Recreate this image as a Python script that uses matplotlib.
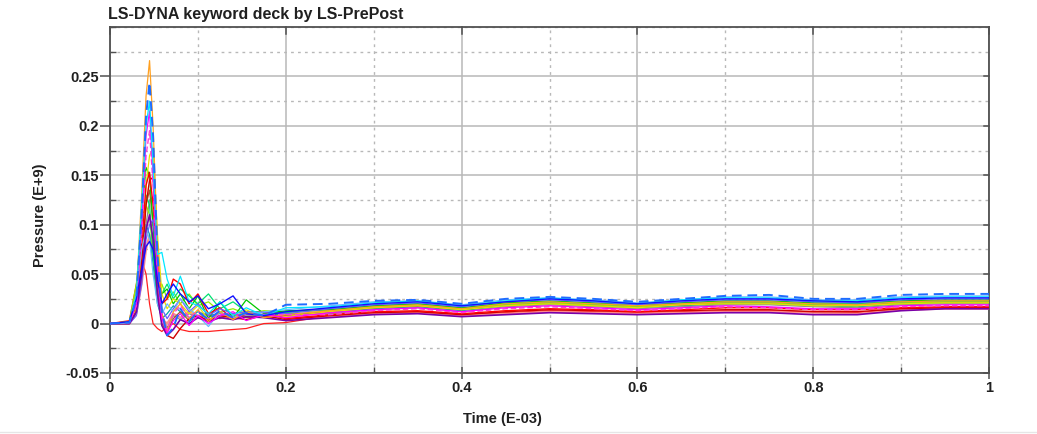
import matplotlib
matplotlib.use('Agg')
import matplotlib.pyplot as plt
from matplotlib.ticker import MultipleLocator
from matplotlib.lines import Line2D

plt.rcParams['font.family'] = ['Liberation Sans', 'DejaVu Sans']

# ---- data (time in E-03, pressure in E+9) ----
time = [0.000, 0.022, 0.030, 0.036, 0.041, 0.045, 0.049, 0.054, 0.059, 0.065,
        0.072, 0.080, 0.090, 0.100, 0.112, 0.125, 0.140, 0.155, 0.175,
        0.20, 0.25, 0.30, 0.35, 0.40, 0.45, 0.50, 0.55, 0.60, 0.65, 0.70,
        0.75, 0.80, 0.85, 0.90, 0.95, 1.00]

s_orange = [0, 0.001, 0.030, 0.130, 0.230, 0.266, 0.200, 0.080, 0.010, -0.008, 0.012, 0.020, 0.005, 0.014, 0.002, 0.012, 0.004, 0.012, 0.006,
            0.009, 0.013, 0.017, 0.019, 0.015, 0.020, 0.022, 0.020, 0.018, 0.020, 0.022, 0.022, 0.020, 0.019, 0.022, 0.023, 0.023]
s_blue_dash = [0, 0.001, 0.025, 0.110, 0.210, 0.244, 0.190, 0.070, 0.012, -0.012, -0.004, 0.015, 0.002, 0.012, 0.004, 0.013, 0.006, 0.011, 0.008,
               0.019, 0.020, 0.023, 0.024, 0.020, 0.025, 0.027, 0.025, 0.022, 0.025, 0.028, 0.029, 0.025, 0.025, 0.029, 0.030, 0.030]
s_cyan = [0, 0.001, 0.030, 0.120, 0.200, 0.225, 0.160, 0.070, 0.072, 0.045, 0.028, 0.048, 0.022, 0.018, 0.010, 0.022, 0.008, 0.016, 0.008,
          0.016, 0.017, 0.021, 0.023, 0.018, 0.023, 0.026, 0.023, 0.020, 0.024, 0.026, 0.026, 0.023, 0.023, 0.026, 0.027, 0.027]
s_magenta = [0, 0.001, 0.020, 0.100, 0.190, 0.215, 0.150, 0.050, 0.005, -0.010, 0.003, 0.010, -0.002, 0.008, 0.000, 0.008, 0.012, 0.003, 0.009,
             0.006, 0.011, 0.014, 0.016, 0.012, 0.016, 0.018, 0.016, 0.014, 0.016, 0.018, 0.017, 0.015, 0.015, 0.018, 0.019, 0.019]
s_yellow = [0, 0.000, 0.015, 0.070, 0.140, 0.170, 0.178, 0.090, 0.030, 0.015, 0.025, 0.020, 0.010, 0.018, 0.004, 0.012, 0.005, 0.014, 0.006,
            0.007, 0.012, 0.016, 0.018, 0.014, 0.018, 0.020, 0.018, 0.016, 0.019, 0.020, 0.020, 0.018, 0.018, 0.020, 0.021, 0.021]
s_red = [0, 0.001, 0.020, 0.080, 0.140, 0.153, 0.120, 0.060, 0.020, 0.025, 0.045, 0.040, 0.020, 0.030, 0.010, 0.016, 0.004, 0.010, 0.012,
         0.005, 0.009, 0.012, 0.013, 0.010, 0.013, 0.015, 0.014, 0.012, 0.014, 0.016, 0.016, 0.014, 0.014, 0.016, 0.017, 0.017]
s_darkred = [0, 0.000, 0.012, 0.060, 0.120, 0.145, 0.148, 0.070, 0.010, -0.012, -0.015, -0.005, 0.005, 0.008, 0.003, 0.008, 0.006, 0.004, 0.008,
             0.004, 0.008, 0.011, 0.012, 0.009, 0.012, 0.014, 0.013, 0.012, 0.013, 0.014, 0.014, 0.012, 0.012, 0.015, 0.016, 0.016]
s_green = [0, 0.001, 0.030, 0.110, 0.158, 0.150, 0.100, 0.040, 0.030, 0.035, 0.020, 0.030, 0.015, 0.028, 0.005, 0.022, 0.006, 0.024, 0.010,
           0.013, 0.014, 0.018, 0.020, 0.016, 0.021, 0.023, 0.021, 0.019, 0.021, 0.023, 0.023, 0.021, 0.021, 0.023, 0.024, 0.024]
s_brown = [0, 0.000, 0.018, 0.070, 0.120, 0.135, 0.100, 0.040, 0.000, -0.008, 0.005, 0.012, 0.003, 0.006, 0.008, 0.005, 0.010, 0.006, 0.008,
           0.008, 0.012, 0.016, 0.018, 0.014, 0.019, 0.021, 0.019, 0.017, 0.019, 0.021, 0.021, 0.019, 0.019, 0.021, 0.022, 0.022]
s_gray = [0, 0, 0.010, 0.050, 0.100, 0.125, 0.128, 0.060, 0.010, -0.005, 0.008, 0.004, 0.010, 0.006, 0.004, 0.008, 0.006, 0.009, 0.007,
          0.008, 0.010, 0.014, 0.016, 0.012, 0.017, 0.019, 0.017, 0.015, 0.017, 0.019, 0.019, 0.017, 0.016, 0.019, 0.020, 0.020]
s_lime = [0, 0.002, 0.040, 0.100, 0.120, 0.110, 0.070, 0.035, 0.040, 0.025, 0.032, 0.020, 0.030, 0.018, 0.022, 0.012, 0.015, 0.010, 0.013,
          0.012, 0.013, 0.017, 0.019, 0.015, 0.019, 0.021, 0.019, 0.017, 0.020, 0.021, 0.021, 0.019, 0.018, 0.021, 0.022, 0.022]
s_purple = [0, 0, 0.012, 0.050, 0.095, 0.110, 0.085, 0.030, -0.002, -0.012, -0.006, 0.004, 0.000, 0.006, 0.002, 0.006, 0.004, 0.007, 0.006,
            0.003, 0.006, 0.009, 0.010, 0.007, 0.009, 0.011, 0.010, 0.009, 0.010, 0.011, 0.011, 0.009, 0.009, 0.013, 0.015, 0.015]
s_blue = [0, 0.002, 0.025, 0.055, 0.078, 0.083, 0.075, 0.045, 0.020, 0.030, 0.040, 0.030, 0.022, 0.028, 0.015, 0.020, 0.028, 0.010, 0.008,
          0.012, 0.016, 0.020, 0.022, 0.018, 0.022, 0.025, 0.023, 0.020, 0.023, 0.025, 0.025, 0.023, 0.022, 0.025, 0.026, 0.026]
s_teal = [0, 0.001, 0.030, 0.080, 0.100, 0.090, 0.060, 0.020, 0.005, 0.010, 0.018, 0.012, 0.006, 0.012, 0.008, 0.010, 0.006, 0.009, 0.008,
          0.010, 0.011, 0.015, 0.017, 0.013, 0.018, 0.020, 0.018, 0.016, 0.018, 0.020, 0.020, 0.018, 0.017, 0.020, 0.021, 0.021]
s_redstep = [0, 0.003, 0.040, 0.065, 0.050, 0.020, 0.000, -0.005, -0.008, -0.003, 0.000, -0.006, -0.008, -0.008, -0.008, -0.007, -0.006, -0.005, 0.000,
             0.001, 0.008, 0.010, 0.012, 0.009, 0.011, 0.013, 0.012, 0.011, 0.012, 0.013, 0.013, 0.012, 0.011, 0.015, 0.016, 0.016]
s_pink = [0, 0, 0.010, 0.040, 0.075, 0.090, 0.070, 0.030, 0.005, 0.000, 0.010, 0.006, 0.012, 0.008, 0.010, 0.006, 0.008, 0.010, 0.009,
          0.006, 0.007, 0.010, 0.011, 0.008, 0.010, 0.012, 0.011, 0.010, 0.011, 0.012, 0.012, 0.011, 0.010, 0.014, 0.015, 0.015]
s_spring = [0, 0.001, 0.030, 0.090, 0.130, 0.120, 0.070, 0.025, 0.030, 0.040, 0.025, 0.035, 0.028, 0.020, 0.030, 0.015, 0.022, 0.012, 0.012,
            0.011, 0.015, 0.018, 0.020, 0.016, 0.020, 0.022, 0.020, 0.018, 0.021, 0.022, 0.022, 0.020, 0.020, 0.022, 0.023, 0.023]
s_lmag = [0, 0.001, 0.018, 0.090, 0.170, 0.195, 0.140, 0.050, 0.008, -0.006, 0.010, 0.018, 0.006, 0.012, 0.005, 0.010, 0.007, 0.010, 0.009,
          0.009, 0.009, 0.013, 0.015, 0.011, 0.015, 0.017, 0.015, 0.013, 0.015, 0.017, 0.016, 0.014, 0.014, 0.017, 0.018, 0.018]
s_peri = [0, 0, 0.008, 0.040, 0.085, 0.100, 0.105, 0.060, 0.015, 0.005, 0.015, 0.025, 0.012, 0.020, 0.008, 0.015, 0.010, 0.012, 0.011,
          0.010, 0.015, 0.019, 0.021, 0.017, 0.022, 0.024, 0.022, 0.019, 0.022, 0.024, 0.024, 0.022, 0.021, 0.024, 0.025, 0.025]
s_lblue = [0, 0.001, 0.030, 0.075, 0.095, 0.085, 0.050, 0.020, 0.010, 0.020, 0.012, 0.025, 0.015, 0.008, -0.003, 0.012, 0.006, 0.010, 0.012,
           0.014, 0.018, 0.022, 0.023, 0.019, 0.024, 0.026, 0.024, 0.021, 0.024, 0.027, 0.027, 0.024, 0.024, 0.027, 0.028, 0.028]

x_ticks = [0, 0.2, 0.4, 0.6, 0.8, 1.0]
x_tick_labels = ['0', '0.2', '0.4', '0.6', '0.8', '1']
y_ticks = [-0.05, 0, 0.05, 0.1, 0.15, 0.2, 0.25]
y_tick_labels = ['-0.05', '0', '0.05', '0.1', '0.15', '0.2', '0.25']

# (series, colour, linestyle, linewidth)
curves = [
    (s_redstep, '#ff2020', '-', 0.9),
    (s_pink, '#ff8c8c', '-', 1.5),
    (s_teal, '#00a8a8', '-', 0.9),
    (s_gray, '#8c8c8c', '-', 0.9),
    (s_brown, '#a0602a', '-', 0.9),
    (s_lime, '#90ee00', '-', 0.9),
    (s_spring, '#00e070', '-', 0.9),
    (s_green, '#00c800', '-', 0.9),
    (s_yellow, '#e8e000', '-', 0.9),
    (s_darkred, '#d00000', '-', 1.0),
    (s_red, '#ff0000', '-', 1.0),
    (s_peri, '#6a5cff', '-', 0.9),
    (s_lblue, '#6ab8ff', '-', 0.9),
    (s_purple, '#7a00a8', '-', 1.2),
    (s_orange, '#ffa020', '-', 0.9),
    (s_lmag, '#ff40d0', (0, (4, 2)), 1.0),
    (s_magenta, '#ff00ff', '-', 0.9),
    (s_cyan, '#00e8ff', '-', 0.9),
    (s_blue, '#1010ff', '-', 1.0),
    (s_blue_dash, '#1e6cff', (0, (5, 3)), 1.4),
]

fig = plt.figure(figsize=(10.37, 4.34), dpi=100)
ax = fig.add_axes([110 / 1037, 1 - 373 / 434, (989 - 110) / 1037, (373 - 27) / 434])

for series, col, ls, lw in curves:
    ax.plot(time, series, color=col, linestyle=ls, linewidth=lw, zorder=3)

ax.set_xlim(0, 1.0)
ax.set_ylim(-0.05, 0.30)

ax.xaxis.set_minor_locator(MultipleLocator(0.1))
ax.yaxis.set_minor_locator(MultipleLocator(0.025))
ax.set_xticks(x_ticks)
ax.set_xticklabels(x_tick_labels)
ax.set_yticks(y_ticks)
ax.set_yticklabels(y_tick_labels)

ax.grid(True, which='major', color='#b8b8b8', linestyle='-', linewidth=1.1, zorder=0)
ax.grid(True, which='minor', color='#b8b8b8', linestyle=(0, (2, 3)), linewidth=1.0, zorder=0)
ax.set_axisbelow(True)

for s in ax.spines.values():
    s.set_color('#505050')
    s.set_linewidth(1.3)

ax.tick_params(axis='y', which='major', direction='out', length=7, width=1.1, color='#505050',
               left=True, right=False, labelsize=10.5, pad=1)
ax.tick_params(axis='y', which='minor', direction='in', length=4, width=1, color='#505050',
               left=True, right=False)
ax.tick_params(axis='x', which='major', direction='inout', length=8, width=1.1, color='#505050',
               top=False, labelsize=10.5, pad=2)
ax.tick_params(axis='x', which='minor', direction='in', length=4, width=1, color='#505050', top=False)
for lab in ax.get_xticklabels() + ax.get_yticklabels():
    lab.set_fontweight('bold')
    lab.set_color('#202020')

# inward major ticks on the right and top spines
for yv in y_ticks:
    ax.add_line(Line2D([0.994, 1.0], [yv, yv], transform=ax.get_yaxis_transform(),
                       color='#505050', lw=1.1, clip_on=False, zorder=4))
for xv in x_ticks:
    ax.add_line(Line2D([xv, xv], [0.98, 1.0], transform=ax.get_xaxis_transform(),
                       color='#505050', lw=1.1, clip_on=False, zorder=4))

fig.text(108 / 1037, 1 - 15 / 434, 'LS-DYNA keyword deck by LS-PrePost', fontsize=11.5,
         fontweight='bold', color='#202020', ha='left', va='center')
fig.text(502 / 1037, 1 - 419 / 434, 'Time (E-03)', fontsize=10.5, fontweight='bold',
         color='#202020', ha='center', va='center')
fig.text(40 / 1037, 1 - 215 / 434, 'Pressure (E+9)', fontsize=10.5, fontweight='bold',
         color='#202020', ha='center', va='center', rotation=90)

fig.add_artist(Line2D([0, 1], [1 - 432 / 434, 1 - 432 / 434], transform=fig.transFigure,
                      color='#e6e6e6', lw=1.0))

fig.savefig('out.png', dpi=100)
